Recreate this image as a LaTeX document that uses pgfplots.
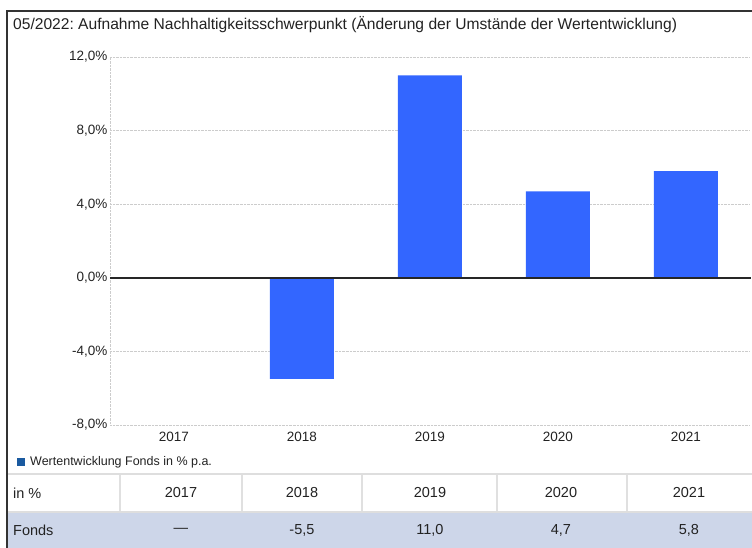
\documentclass[border=0pt]{standalone}
\usepackage{fontspec}
\setmainfont{Liberation Sans}
\usepackage{pgfplots}
\pgfplotsset{compat=1.18}
\definecolor{barblue}{HTML}{3366FF}
\definecolor{legblue}{HTML}{1A5AA0}
\definecolor{rowblue}{HTML}{CDD6E9}
\definecolor{txt}{HTML}{222222}
\frenchspacing
\begin{document}
\begin{tikzpicture}
\begin{axis}[
  at={(110bp,-425bp)}, anchor=south west,
  width=640bp, height=368bp, scale only axis,
  xmin=-0.5, xmax=4.5, ymin=-8, ymax=12,
  axis line style={draw=none},
  major tick length=0,
  ytick={-8,-4,0,4,8,12},
  yticklabels={{-8,0\%},{-4,0\%},{0,0\%},{4,0\%},{8,0\%},{12,0\%}},
  xtick={0,1,2,3,4},
  xticklabels={2017,2018,2019,2020,2021},
  ymajorgrids,
  grid style={densely dotted, black!20},
  ticklabel style={font=\fontsize{13.5bp}{15bp}\selectfont, text=txt},
  xticklabel style={yshift=-4bp},
  yticklabel style={xshift=1bp},
  extra x ticks={-0.5}, extra x tick labels={}, extra x tick style={xmajorgrids},
  ybar, bar width=64bp,
  clip=false,
]
\addplot[fill=barblue, draw=none] coordinates {(1,-5.5) (2,11.0) (3,4.7) (4,5.8)};
\draw[black!85, line width=1.5bp] (axis cs:-0.5,0) -- (axis cs:4.51,0);
\end{axis}
\begin{scope}[x=1bp,y=1bp]
\path[use as bounding box] (0,0) rectangle (752,-548);
% table backgrounds
\fill[rowblue] (8,-513) rectangle (752,-548);
\draw[black!13, line width=2.5bp] (8,-474) -- (752,-474);
\draw[black!13, line width=2.5bp] (8,-512) -- (752,-512);
\foreach \xx in {120,242,362,497,627} {\draw[black!12, line width=1.2bp] (\xx,-475) -- (\xx,-511);}
% frame
\draw[black!80, line width=1.3bp] (7,-548) -- (7,-11) -- (752,-11);
\node[anchor=base west, font=\fontsize{15.6bp}{17bp}\selectfont, text=txt, inner sep=0] at (13,-30) {05/2022: Aufnahme Nachhaltigkeitsschwerpunkt (Änderung der Umstände der Wertentwicklung)};
% legend
\fill[legblue] (17,-458) rectangle (25,-466);
\node[anchor=west, font=\fontsize{12.5bp}{14bp}\selectfont, text=txt, inner sep=0] at (30,-462) {Wertentwicklung Fonds in \% p.a.};
% table text
\begin{scope}[every node/.style={font=\fontsize{14.5bp}{16bp}\selectfont, text=txt, inner sep=0}]
\node[anchor=west] at (13,-493) {in \%};
\node at (181,-493) {2017};
\node at (302,-493) {2018};
\node at (430,-493) {2019};
\node at (561,-493) {2020};
\node at (689,-493) {2021};
\node[anchor=west] at (13,-530) {Fonds};
\node at (181,-530) {—};
\node at (302,-530) {-5,5};
\node at (430,-530) {11,0};
\node at (561,-530) {4,7};
\node at (689,-530) {5,8};
\end{scope}
\end{scope}
\end{tikzpicture}
\end{document}
